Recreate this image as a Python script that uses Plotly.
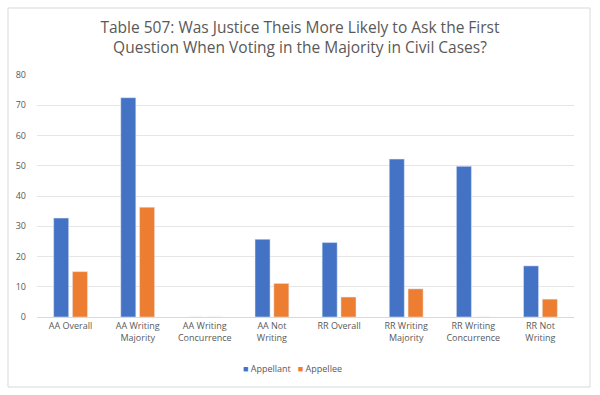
import plotly.graph_objects as go

categories = ["AA Overall", "AA Writing<br>Majority", "AA Writing<br>Concurrence", "AA Not<br>Writing",
              "RR Overall", "RR Writing<br>Majority", "RR Writing<br>Concurrence", "RR Not<br>Writing"]
appellant = [32.7, 72.5, 0, 25.7, 24.6, 52.2, 49.8, 16.9]
appellee = [15.0, 36.3, 0, 11.1, 6.6, 9.3, 0, 5.9]
series_names = ["Appellant", "Appellee"]
series_colors = ["#4472C4", "#ED7D31"]
title_text = "Table 507: Was Justice Theis More Likely to Ask the First<br>Question When Voting in the Majority in Civil Cases?"

L, R, T, B = 37, 26, 75, 78
W, H = 600, 395
pw, ph = W - L - R, H - T - B

def px_x(x):
    return (x - L) / pw

def px_y(y):
    return (H - B - y) / ph

fig = go.Figure()
for name, vals, col in zip(series_names, [appellant, appellee], series_colors):
    fig.add_trace(go.Bar(x=categories, y=vals, name=name, marker_color=col, showlegend=False))

legend_text = "   ".join(
    f"<span style='color:{c}'>■</span> {n}" for n, c in zip(series_names, series_colors)
)

fig.update_layout(
    width=W, height=H,
    margin=dict(l=L, r=R, t=T, b=B, autoexpand=False),
    paper_bgcolor="white", plot_bgcolor="white",
    font=dict(family="Open Sans, Liberation Sans, sans-serif", color="#595959", size=9),
    barmode="group", bargap=0.44, bargroupgap=0.2,
    title=dict(text=title_text, x=0.5, xanchor="center", y=1 - 33/H, yanchor="top",
               font=dict(size=15.5, color="#595959", family="Open Sans, sans-serif")),
    xaxis=dict(showgrid=False, showline=True, linecolor="#D9D9D9", linewidth=1,
               ticks="", tickfont=dict(size=9, color="#595959"), automargin=False),
    yaxis=dict(range=[0, 80], dtick=10, showgrid=True, gridcolor="#E6E6E6", gridwidth=1,
               zeroline=False, showline=False, ticks="", ticklabelstandoff=10,
               tickfont=dict(size=9, color="#595959"), automargin=False),
    showlegend=False,
    annotations=[dict(text=legend_text, xref="paper", yref="paper", x=px_x(292), y=px_y(368),
                      xanchor="center", yanchor="middle", showarrow=False,
                      font=dict(size=9, color="#595959"))],
    shapes=[dict(type="rect", xref="paper", yref="paper",
                 x0=px_x(8), x1=px_x(590), y0=px_y(387), y1=px_y(8),
                 line=dict(color="#D9D9D9", width=1), fillcolor="rgba(0,0,0,0)", layer="below")],
)

fig.write_html("out.html", config={"displayModeBar": False},
               post_script="document.body.style.margin='0';")
